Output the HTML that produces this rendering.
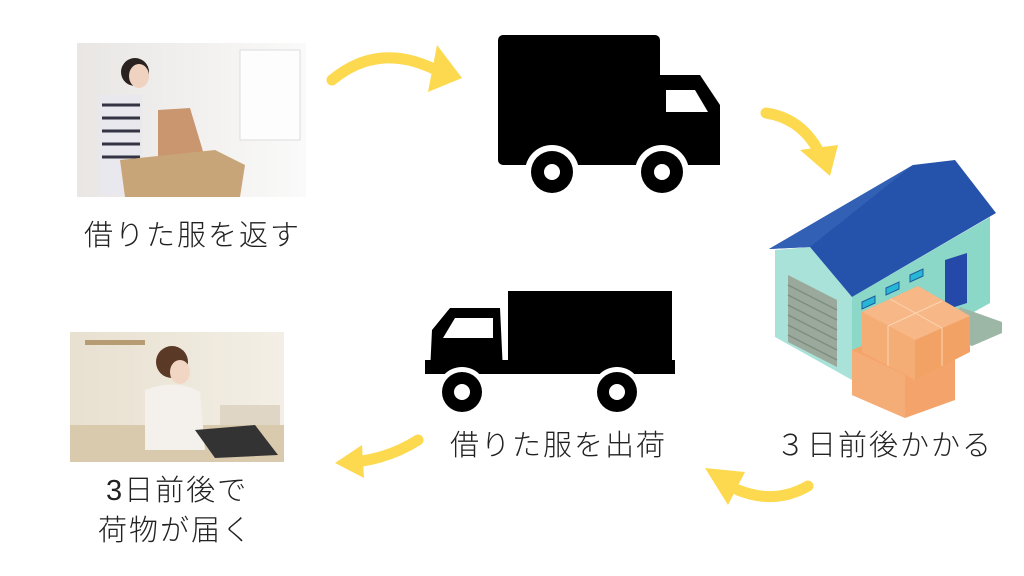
<!DOCTYPE html>
<html><head><meta charset="utf-8"><style>
body{margin:0;width:1024px;height:576px;background:#fff;position:relative;overflow:hidden;font-family:"Liberation Sans","Noto Sans CJK JP",sans-serif;}
.t{position:absolute;font-size:29px;color:#222;white-space:nowrap;letter-spacing:2px;font-weight:300}
</style></head><body>
<svg width="1024" height="576" style="position:absolute;left:0;top:0">
<defs>
<linearGradient id="p1" x1="0" y1="0" x2="1" y2="0"><stop offset="0" stop-color="#e9e6e4"/><stop offset="0.6" stop-color="#f3f2f0"/><stop offset="1" stop-color="#fafafa"/></linearGradient>
<linearGradient id="p2" x1="0" y1="0" x2="1" y2="0"><stop offset="0" stop-color="#e8e0d0"/><stop offset="1" stop-color="#f3efe6"/></linearGradient>
</defs>
<rect x="77" y="43" width="229" height="154" fill="url(#p1)"/>
<rect x="240" y="50" width="60" height="90" fill="#fdfdfd" stroke="#ddd"/>
<rect x="100" y="95" width="42" height="100" fill="#e8e8ee"/>
<g stroke="#334" stroke-width="3"><line x1="102" y1="105" x2="140" y2="105"/><line x1="102" y1="118" x2="140" y2="118"/><line x1="102" y1="131" x2="140" y2="131"/><line x1="102" y1="144" x2="140" y2="144"/><line x1="102" y1="157" x2="140" y2="157"/></g>
<circle cx="135" cy="72" r="14" fill="#2a2220"/>
<ellipse cx="139" cy="76" rx="10" ry="12" fill="#f0d2c0"/>
<path d="M158 110 L190 108 L205 158 L158 160 Z" fill="#c99670"/>
<path d="M120 160 L215 150 L245 165 L240 197 L125 197 Z" fill="#c8a579"/>
<rect x="70" y="332" width="214" height="130" fill="url(#p2)"/>
<rect x="70" y="425" width="214" height="37" fill="#d9c9ad"/>
<rect x="85" y="340" width="60" height="5" fill="#b79b72"/>
<circle cx="172" cy="362" r="16" fill="#5a3a26"/>
<ellipse cx="180" cy="372" rx="10" ry="12" fill="#f2d6c4"/>
<path d="M145 390 Q175 378 200 392 L205 450 L145 450 Z" fill="#f4f1ec"/>
<path d="M195 430 L255 425 L278 455 L215 458 Z" fill="#333"/>
<rect x="220" y="405" width="60" height="20" fill="#e0d6c6"/>
<rect x="498" y="35" width="162" height="130" rx="5" fill="#000"/>
<path d="M660 75 L700 75 L720 105 L720 165 L660 165 Z" fill="#000"/>
<path d="M666 90 L695 90 L708 112 L666 112 Z" fill="#fff"/>
<circle cx="552" cy="172" r="27" fill="#fff"/><circle cx="552" cy="172" r="21" fill="#000"/><circle cx="552" cy="172" r="8" fill="#fff"/>
<circle cx="662" cy="172" r="27" fill="#fff"/><circle cx="662" cy="172" r="21" fill="#000"/><circle cx="662" cy="172" r="8" fill="#fff"/>
<rect x="508" y="291" width="164" height="82" fill="#000"/>
<path d="M500 308 L450 308 L432 330 L430 372 L503 372 Z" fill="#000"/>
<path d="M493 318 L455 318 L443 338 L493 338 Z" fill="#fff"/>
<rect x="425" y="360" width="250" height="14" fill="#000"/>
<circle cx="462" cy="392" r="25" fill="#fff"/><circle cx="462" cy="392" r="20" fill="#000"/><circle cx="462" cy="392" r="8" fill="#fff"/>
<circle cx="617" cy="392" r="25" fill="#fff"/><circle cx="617" cy="392" r="20" fill="#000"/><circle cx="617" cy="392" r="8" fill="#fff"/>
<polygon points="775,250 810,247 852,297 852,380 775,337" fill="#a9e2d8"/>
<polygon points="852,297 990,217 990,303 852,380" fill="#8bd8c9"/>
<polygon points="788,275 837,300 837,367 788,342" fill="#9aa99c"/>
<g stroke="#7d8d80" stroke-width="1.5"><line x1="788" y1="285" x2="837" y2="310"/><line x1="788" y1="295" x2="837" y2="320"/><line x1="788" y1="305" x2="837" y2="330"/><line x1="788" y1="315" x2="837" y2="340"/><line x1="788" y1="325" x2="837" y2="350"/><line x1="788" y1="335" x2="837" y2="360"/></g>
<polygon points="945,260 967,253 967,303 945,310" fill="#2549a8"/>
<polygon points="960,307 1002,322 1002,333 972,346 950,338" fill="#9cb7a6"/>
<g fill="#27b7d6" stroke="#1e5a9e" stroke-width="1"><polygon points="862,302 875,296 875,303 862,309"/><polygon points="886,288 899,282 899,289 886,295"/><polygon points="910,275 923,269 923,276 910,282"/></g>
<polygon points="769,249 810,247 852,297 996,213 955,160 913,165" fill="#2552ab"/>
<polygon points="769,249 810,247 913,165" fill="#3260b5"/>
<polygon points="852,350 900,330 955,355 955,400 905,418 852,395" fill="#f4a46a"/>
<polygon points="852,350 905,375 905,418 852,395" fill="#f5ad78"/>
<polygon points="862,312 918,286 970,316 970,352 915,380 862,352" fill="#f3a265"/>
<polygon points="862,312 918,286 970,316 915,340" fill="#f7b786"/>
<polygon points="862,312 915,340 915,380 862,352" fill="#f5ad76"/>
<g stroke="#fbd7b5" stroke-width="1" fill="none"><line x1="890" y1="299" x2="942" y2="328"/><line x1="942" y1="301" x2="888" y2="326"/><line x1="888" y1="326" x2="888" y2="366"/><line x1="942" y1="328" x2="942" y2="366"/></g>
<g fill="none" stroke="#fdd94f" stroke-width="11" stroke-linecap="round">
<path d="M332 80 Q380 40 440 72"/>
<path d="M766 113 Q800 118 818 150"/>
<path d="M808 486 Q775 505 738 490"/>
<path d="M418 440 Q390 458 355 462"/>
</g>
<g fill="#fdd94f">
<polygon points="437,45 462,78 428,92"/>
<polygon points="800,150 838,145 830,176"/>
<polygon points="705,468 745,472 728,505"/>
<polygon points="335,463 362,445 364,478"/>
</g>
</svg>
<div class="t" style="left:84px;top:212px">借りた服を返す</div>
<div class="t" style="left:450px;top:422px">借りた服を出荷</div>
<div class="t" style="left:776px;top:422px">３日前後かかる</div>
<div class="t" style="left:106px;top:467px">3日前後で</div>
<div class="t" style="left:98px;top:507px">荷物が届く</div>
</body></html>
